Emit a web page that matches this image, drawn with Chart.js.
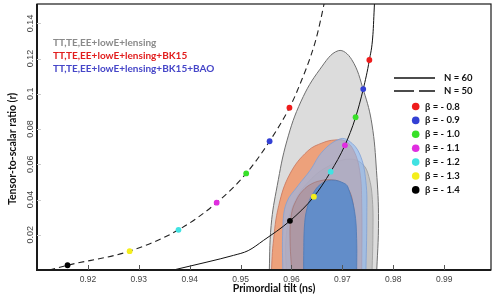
<!DOCTYPE html>
<html>
<head>
<meta charset="utf-8">
<script src="https://cdn.jsdelivr.net/npm/chart.js@4.4.1/dist/chart.umd.min.js"></script>
<style>
html, body { margin: 0; padding: 0; background: #fff; }
</style>
</head>
<body>
<canvas id="c" width="498" height="300"></canvas>
<script>
// axis ticks
const xTicks = [0.92, 0.93, 0.94, 0.95, 0.96, 0.97, 0.98, 0.99]
const xTickLabels = ['0.92', '0.93', '0.94', '0.95', '0.96', '0.97', '0.98', '0.99']
const yTicks = [0.02, 0.04, 0.06, 0.08, 0.1, 0.12, 0.14]
const yTickLabels = ['0.02', '0.04', '0.06', '0.08', '0.1', '0.12', '0.14']

// legend texts
const dataLabels = ['TT,TE,EE+lowE+lensing', 'TT,TE,EE+lowE+lensing+BK15', 'TT,TE,EE+lowE+lensing+BK15+BAO']
const dataColors = ['#8a8a8a', '#e11d1d', '#4646c8']
const nLabels = ['N = 60', 'N = 50']
const betaLabels = ['β = - 0.8', 'β = - 0.9', 'β = - 1.0', 'β = - 1.1', 'β = - 1.2', 'β = - 1.3', 'β = - 1.4']
const betaColors = ['#ee1c1c', '#3340d4', '#38e028', '#e02ee0', '#40e2e2', '#f4ee1c', '#000000']

// beta points on N = 60 (solid) and N = 50 (dashed)
const n60Ns = [0.9753, 0.9741, 0.9726, 0.9705, 0.9677, 0.9644, 0.9597]
const n60R = [0.1192, 0.1027, 0.0867, 0.0708, 0.0558, 0.0416, 0.0279]
const n50Ns = [0.9596, 0.9557, 0.9511, 0.9453, 0.9378, 0.9282, 0.9160]
const n50R = [0.0921, 0.0731, 0.0548, 0.0382, 0.0228, 0.0107, 0.0027]

// traced curves
const n60LineNs = [0.9368, 0.9434, 0.9486, 0.9515, 0.9545, 0.9597, 0.9644, 0.9677, 0.9705, 0.9726, 0.9741, 0.9753, 0.9760, 0.9763]
const n60LineR = [0, 0.0045, 0.0083, 0.0110, 0.0168, 0.0279, 0.0416, 0.0558, 0.0708, 0.0867, 0.1027, 0.1192, 0.1336, 0.151]
const n50LineNs = [0.9124, 0.9160, 0.9282, 0.9378, 0.9453, 0.9511, 0.9557, 0.9596, 0.9611, 0.9647, 0.9658, 0.9664]
const n50LineR = [0, 0.0027, 0.0107, 0.0228, 0.0382, 0.0548, 0.0731, 0.0921, 0.1015, 0.1298, 0.1429, 0.151]

// contours [ns, r]
const grayOuter = [[0.9556, -0.004], [0.9560, 0.0253], [0.9572, 0.0479], [0.9591, 0.0733], [0.9619, 0.0959], [0.9656, 0.1140], [0.9692, 0.1245], [0.9718, 0.1196], [0.9742, 0.1015], [0.9758, 0.0829], [0.9767, 0.0564], [0.9771, 0.0281], [0.9767, -0.004]]
const grayInner = [[0.9590, -0.004], [0.9590, 0.0200], [0.9605, 0.0380], [0.9640, 0.0520], [0.9680, 0.0600], [0.9715, 0.0630], [0.9740, 0.0600], [0.9752, 0.0530], [0.9759, 0.0400], [0.9760, 0.0200], [0.9758, -0.004]]
const orangeOuter = [[0.9560, -0.004], [0.9564, 0.0150], [0.9575, 0.0366], [0.9597, 0.0546], [0.9632, 0.0676], [0.9662, 0.0723], [0.9685, 0.0738], [0.9705, 0.0733], [0.9722, 0.0680], [0.9734, 0.0563], [0.9738, 0.0380], [0.9738, -0.004]]
const blueOuter = [[0.9583, -0.004], [0.9583, 0.0236], [0.9590, 0.0380], [0.9613, 0.0479], [0.9636, 0.0563], [0.9662, 0.0676], [0.9695, 0.0744], [0.9713, 0.0733], [0.9734, 0.0659], [0.9746, 0.0507], [0.9748, 0.0300], [0.9746, -0.004]]
const orangeInner = [[0.9601, -0.004], [0.9597, 0.0196], [0.9600, 0.0320], [0.9609, 0.0394], [0.9622, 0.0450], [0.9640, 0.0490], [0.9662, 0.0510], [0.9679, 0.0512], [0.9695, 0.0501], [0.9711, 0.0462], [0.9720, 0.0394], [0.9724, 0.0281], [0.9726, 0.0140], [0.9726, -0.004]]
const blueInner = [[0.9624, -0.004], [0.9624, 0.0083], [0.9626, 0.0270], [0.9632, 0.0366], [0.9640, 0.0422], [0.9656, 0.0484], [0.9679, 0.0510], [0.9705, 0.0490], [0.9712, 0.0462], [0.9724, 0.0332], [0.9728, 0.0179], [0.9728, -0.004]]

const pts = arr => arr.map(p => ({x: p[0], y: p[1]}))
const zip = (xs, ys) => xs.map((v, i) => ({x: v, y: ys[i]}))

function contour(arr, fillColor, lineColor, order, w) {
    return {
        data: pts(arr),
        showLine: true,
        fill: 'shape',
        backgroundColor: fillColor,
        borderColor: lineColor,
        borderWidth: w || 0.8,
        pointRadius: 0,
        tension: 0.4,
        capBezierPoints: false,
        order: order
    }
}

const decor = {
    id: 'decor',
    afterDraw(chart) {
        const ctx = chart.ctx
        const a = chart.chartArea
        const x = chart.scales.x
        const y = chart.scales.y
        ctx.save()
        // frame
        ctx.strokeStyle = '#1a1a1a'
        ctx.lineWidth = 1.2
        ctx.strokeRect(a.left, a.top, a.right - a.left, a.bottom - a.top)
        ctx.lineWidth = 2
        ctx.beginPath()
        ctx.moveTo(a.left, a.top)
        ctx.lineTo(a.left, a.bottom)
        ctx.lineTo(a.right, a.bottom)
        ctx.stroke()
        // inner ticks
        ctx.strokeStyle = '#555'
        ctx.lineWidth = 1
        for (const v of xTicks) {
            const px = Math.round(x.getPixelForValue(v)) + 0.5
            ctx.beginPath(); ctx.moveTo(px, a.bottom); ctx.lineTo(px, a.bottom - 5); ctx.stroke()
        }
        ctx.strokeStyle = '#ccc'
        for (const v of yTicks) {
            const py = Math.round(y.getPixelForValue(v)) + 0.5
            ctx.beginPath(); ctx.moveTo(a.left, py); ctx.lineTo(a.left + 4, py); ctx.stroke()
        }
        // axis titles
        ctx.fillStyle = '#111'
        ctx.font = 'bold 10.5px Lato'
        ctx.textAlign = 'center'
        ctx.textBaseline = 'middle'
        ctx.fillText('Primordial tilt (ns)', 274, 289)
        ctx.save()
        ctx.translate(12.5, 149)
        ctx.rotate(-Math.PI / 2)
        ctx.fillText('Tensor-to-scalar ratio (r)', 0, 0)
        ctx.restore()
        // data legend, top left
        ctx.textAlign = 'left'
        ctx.font = 'bold 10px Lato'
        dataLabels.forEach((t, i) => {
            ctx.fillStyle = dataColors[i]
            ctx.fillText(t, 53, 43 + i * 12.8)
        })
        // N legend
        ctx.strokeStyle = '#111'
        ctx.lineWidth = 1.6
        ctx.beginPath(); ctx.moveTo(394, 78); ctx.lineTo(435, 78); ctx.stroke()
        ctx.setLineDash([20, 5])
        ctx.beginPath(); ctx.moveTo(394, 91); ctx.lineTo(435, 91); ctx.stroke()
        ctx.setLineDash([])
        ctx.fillStyle = '#111'
        ctx.font = 'bold 9.5px Lato'
        nLabels.forEach((t, i) => ctx.fillText(t, 444, 78 + i * 13))
        betaLabels.forEach((t, i) => {
            const cy = 106.5 + i * 13.9
            ctx.fillStyle = betaColors[i]
            ctx.beginPath(); ctx.arc(415.7, cy, 3.8, 0, Math.PI * 2); ctx.fill()
            ctx.fillStyle = '#111'
            ctx.fillText(t, 425, cy)
        })
        ctx.restore()
    }
}

new Chart(document.getElementById('c'), {
    type: 'scatter',
    data: {
        datasets: [
            {
                data: zip(n60Ns, n60R).concat(zip(n50Ns, n50R)),
                pointRadius: 2.9,
                pointBorderWidth: 0,
                pointBackgroundColor: betaColors.concat(betaColors),
                order: 0
            },
            {
                data: zip(n60LineNs, n60LineR),
                showLine: true,
                borderColor: '#111',
                borderWidth: 1,
                pointRadius: 0,
                cubicInterpolationMode: 'monotone',
                order: 1
            },
            {
                data: zip(n50LineNs, n50LineR),
                showLine: true,
                borderColor: '#222',
                borderWidth: 1.1,
                borderDash: [6, 4],
                pointRadius: 0,
                cubicInterpolationMode: 'monotone',
                order: 2
            },
            contour(blueInner, 'rgba(90,140,205,0.9)', '#4a78b8', 3),
            contour(orangeInner, 'rgba(170,105,95,0.30)', 'rgba(160,90,80,0.6)', 4),
            contour(blueOuter, 'rgba(140,185,245,0.6)', '#7f9fd6', 5),
            contour(orangeOuter, 'rgba(244,138,86,0.72)', '#c8745a', 6),
            contour(grayInner, '#c4c4c4', '#9a9a9a', 7),
            contour(grayOuter, '#dcdcdc', '#6e6e6e', 8, 1)
        ]
    },
    options: {
        responsive: false,
        animation: false,
        devicePixelRatio: 1,
        layout: {padding: {left: 0, right: 7, top: 3, bottom: 0}},
        plugins: {legend: {display: false}, tooltip: {enabled: false}},
        scales: {
            x: {
                type: 'linear',
                min: 0.91,
                max: 0.9992,
                grid: {display: false, drawTicks: false},
                border: {display: false},
                afterBuildTicks: s => { s.ticks = xTicks.map(v => ({value: v})) },
                afterFit: s => { s.height = 30 },
                ticks: {
                    padding: 5,
                    color: '#444',
                    font: {family: 'Liberation Sans', size: 8.5},
                    callback: (v, i) => xTickLabels[i]
                }
            },
            y: {
                type: 'linear',
                min: 0,
                max: 0.151,
                grid: {display: false, drawTicks: false},
                border: {display: false},
                afterBuildTicks: s => { s.ticks = yTicks.map(v => ({value: v})) },
                afterFit: s => { s.width = 37 },
                ticks: {
                    padding: -2,
                    minRotation: 90,
                    maxRotation: 90,
                    crossAlign: 'center',
                    color: '#444',
                    font: {family: 'Liberation Sans', size: 9},
                    callback: (v, i) => yTickLabels[i]
                }
            }
        }
    },
    plugins: [decor]
})
</script>
</body>
</html>
